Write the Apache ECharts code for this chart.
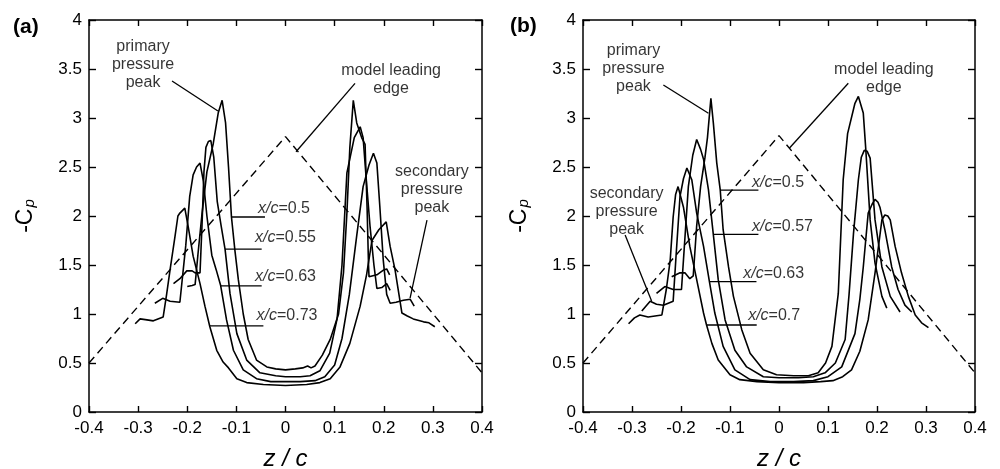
<!DOCTYPE html>
<html>
<head>
<meta charset="utf-8">
<script src="https://cdn.jsdelivr.net/npm/echarts@6/dist/echarts.min.js"></script>
<style>
html, body { margin: 0; padding: 0; background: #fff; }
#chart { width: 1000px; height: 469px; }
</style>
</head>
<body>
<div id="chart"></div>
<script>
// tick values
var xTicks = [-0.4, 0.4, 0.1];   // min, max, step of z/c
var yTicks = [0, 4, 0.5];        // min, max, step of -Cp

// model leading edge (dashed)
var edgeA = [[-0.4, 0.5], [0, 2.81], [0.4, 0.4]];
var edgeB = [[-0.4, 0.5], [0, 2.82], [0.4, 0.4]];

// panel (a) : -Cp along z/c, one line per chord station
var a050 = [[-0.200,1.28],[-0.190,1.29],[-0.184,1.30],[-0.178,1.62],[-0.170,2.02],[-0.160,2.45],[-0.147,2.74],[-0.137,3.05],[-0.129,3.18],[-0.122,2.95],[-0.116,2.50],[-0.110,1.99],[-0.103,1.65],[-0.096,1.35],[-0.086,1.00],[-0.076,0.74],[-0.059,0.53],[-0.038,0.46],[-0.020,0.44],[0.000,0.43],[0.020,0.44],[0.035,0.45],[0.045,0.47],[0.052,0.45],[0.060,0.47],[0.075,0.58],[0.091,0.74],[0.108,1.00],[0.118,1.42],[0.125,2.03],[0.131,2.70],[0.138,3.18],[0.145,2.95],[0.155,2.80],[0.162,2.73],[0.166,2.10],[0.169,1.50],[0.170,1.38],[0.186,1.40],[0.200,1.45],[0.206,1.46],[0.212,1.40]];
var a055 = [[-0.228,1.31],[-0.215,1.36],[-0.201,1.44],[-0.190,1.44],[-0.184,1.42],[-0.174,1.42],[-0.170,1.90],[-0.166,2.45],[-0.162,2.70],[-0.157,2.76],[-0.152,2.77],[-0.146,2.60],[-0.139,2.15],[-0.131,1.90],[-0.123,1.66],[-0.113,1.21],[-0.099,0.80],[-0.079,0.53],[-0.052,0.40],[-0.020,0.37],[0.000,0.36],[0.030,0.36],[0.050,0.37],[0.070,0.42],[0.090,0.60],[0.105,0.95],[0.115,1.50],[0.125,2.44],[0.140,2.80],[0.152,2.91],[0.158,2.80],[0.164,2.40],[0.172,1.90],[0.180,1.50],[0.186,1.26],[0.196,1.27],[0.206,1.31],[0.213,1.24]];
var a063 = [[-0.266,1.11],[-0.250,1.16],[-0.235,1.13],[-0.215,1.12],[-0.211,1.14],[-0.203,1.70],[-0.195,2.20],[-0.188,2.42],[-0.181,2.50],[-0.174,2.54],[-0.167,2.35],[-0.160,2.00],[-0.150,1.60],[-0.141,1.45],[-0.132,1.29],[-0.120,0.94],[-0.106,0.63],[-0.086,0.43],[-0.059,0.34],[-0.030,0.31],[0.000,0.31],[0.030,0.31],[0.060,0.32],[0.080,0.36],[0.100,0.48],[0.115,0.75],[0.130,1.20],[0.145,1.80],[0.158,2.30],[0.170,2.52],[0.179,2.64],[0.186,2.54],[0.192,2.10],[0.199,1.55],[0.206,1.20],[0.213,1.11],[0.225,1.12],[0.240,1.14],[0.254,1.15],[0.262,1.08]];
var a073 = [[-0.306,0.90],[-0.296,0.95],[-0.282,0.94],[-0.269,0.93],[-0.249,0.97],[-0.242,1.20],[-0.235,1.45],[-0.225,1.79],[-0.219,2.00],[-0.215,2.03],[-0.205,2.08],[-0.198,1.89],[-0.188,1.59],[-0.174,1.31],[-0.164,1.08],[-0.154,0.87],[-0.140,0.63],[-0.127,0.51],[-0.116,0.45],[-0.099,0.34],[-0.079,0.30],[-0.045,0.28],[0.000,0.27],[0.043,0.28],[0.070,0.30],[0.091,0.34],[0.111,0.46],[0.131,0.70],[0.152,1.08],[0.165,1.40],[0.176,1.75],[0.190,1.86],[0.205,1.94],[0.213,1.69],[0.223,1.45],[0.237,1.01],[0.248,0.98],[0.260,0.95],[0.281,0.92],[0.292,0.91],[0.304,0.87]];

// panel (b)
var b050 = [[-0.219,1.38],[-0.202,1.42],[-0.192,1.42],[-0.182,1.36],[-0.175,1.39],[-0.168,1.90],[-0.160,2.30],[-0.151,2.60],[-0.146,2.80],[-0.139,3.20],[-0.134,2.95],[-0.127,2.54],[-0.120,2.27],[-0.114,1.86],[-0.103,1.48],[-0.093,1.18],[-0.076,0.84],[-0.059,0.60],[-0.032,0.43],[-0.005,0.38],[0.030,0.37],[0.060,0.37],[0.080,0.40],[0.095,0.50],[0.108,0.67],[0.121,1.21],[0.131,2.37],[0.140,2.84],[0.155,3.15],[0.162,3.22],[0.172,3.05],[0.177,2.69],[0.186,1.96],[0.196,1.52],[0.210,1.18],[0.220,1.06]];
var b057 = [[-0.250,1.21],[-0.233,1.28],[-0.216,1.25],[-0.199,1.25],[-0.193,1.70],[-0.185,2.30],[-0.176,2.62],[-0.168,2.78],[-0.160,2.68],[-0.154,2.58],[-0.144,2.27],[-0.134,1.81],[-0.124,1.35],[-0.110,0.94],[-0.090,0.63],[-0.066,0.46],[-0.032,0.36],[0.000,0.35],[0.040,0.35],[0.070,0.36],[0.094,0.40],[0.115,0.50],[0.135,0.74],[0.143,1.20],[0.152,1.82],[0.162,2.37],[0.168,2.60],[0.174,2.67],[0.180,2.66],[0.186,2.59],[0.196,1.96],[0.210,1.48],[0.227,1.18],[0.247,1.02]];
var b063 = [[-0.280,1.03],[-0.263,1.13],[-0.250,1.10],[-0.236,1.09],[-0.216,1.13],[-0.210,1.60],[-0.202,2.20],[-0.195,2.38],[-0.188,2.49],[-0.178,2.37],[-0.168,2.03],[-0.154,1.69],[-0.142,1.33],[-0.131,1.01],[-0.114,0.67],[-0.090,0.43],[-0.059,0.33],[-0.018,0.31],[0.030,0.31],[0.070,0.32],[0.100,0.36],[0.128,0.46],[0.155,0.80],[0.165,1.15],[0.172,1.48],[0.182,2.03],[0.190,2.12],[0.196,2.17],[0.202,2.14],[0.206,2.09],[0.216,1.86],[0.230,1.48],[0.243,1.25],[0.257,1.09],[0.271,1.02]];
var b070 = [[-0.307,0.90],[-0.295,0.96],[-0.284,0.99],[-0.267,0.97],[-0.239,0.99],[-0.230,1.25],[-0.222,1.55],[-0.216,1.99],[-0.211,2.22],[-0.206,2.30],[-0.195,2.09],[-0.182,1.69],[-0.168,1.35],[-0.154,1.01],[-0.148,0.89],[-0.137,0.70],[-0.124,0.53],[-0.100,0.38],[-0.080,0.33],[-0.045,0.31],[0.000,0.30],[0.050,0.30],[0.085,0.31],[0.110,0.32],[0.130,0.36],[0.148,0.43],[0.165,0.62],[0.182,0.94],[0.196,1.42],[0.210,1.96],[0.216,2.01],[0.222,2.00],[0.227,1.96],[0.237,1.69],[0.250,1.42],[0.264,1.18],[0.278,0.99],[0.291,0.91],[0.305,0.86]];

// annotation texts and their anchor (data units)
var notesA = [
  ['primary\npressure\npeak', -0.290, 3.54, 'c'],
  ['model leading\nedge', 0.215, 3.39, 'c'],
  ['secondary\npressure\npeak', 0.298, 2.265, 'c'],
  ['{i|x/c}=0.5', -0.056, 2.08, 'l'],
  ['{i|x/c}=0.55', -0.062, 1.776, 'l'],
  ['{i|x/c}=0.63', -0.062, 1.38, 'l'],
  ['{i|x/c}=0.73', -0.059, 0.98, 'l']
];
var notesB = [
  ['primary\npressure\npeak', -0.297, 3.507, 'c'],
  ['model leading\nedge', 0.214, 3.40, 'c'],
  ['secondary\npressure\npeak', -0.311, 2.044, 'c'],
  ['{i|x/c}=0.5', -0.055, 2.34, 'l'],
  ['{i|x/c}=0.57', -0.055, 1.89, 'l'],
  ['{i|x/c}=0.63', -0.073, 1.408, 'l'],
  ['{i|x/c}=0.7', -0.063, 0.98, 'l']
];
// leader lines
var leadersA = [
  [[-0.231, 3.378], [-0.1375, 3.071]],
  [[0.1415, 3.354], [0.0214, 2.656]],
  [[0.288, 1.959], [0.2536, 1.163]],
  [[-0.1096, 1.99], [-0.0418, 1.99]],
  [[-0.123, 1.663], [-0.0485, 1.663]],
  [[-0.132, 1.286], [-0.0485, 1.286]],
  [[-0.154, 0.878], [-0.045, 0.878]]
];
var leadersB = [
  [[-0.236, 3.337], [-0.144, 3.048]],
  [[0.1414, 3.354], [0.021, 2.691]],
  [[-0.314, 1.806], [-0.260, 1.133]],
  [[-0.120, 2.265], [-0.042, 2.265]],
  [[-0.134, 1.813], [-0.042, 1.813]],
  [[-0.142, 1.33], [-0.046, 1.33]],
  [[-0.148, 0.888], [-0.0455, 0.888]]
];

var font = 'Liberation Sans, Arial, Helvetica, sans-serif';
var black = '#000';

function xAxisFor(g, pos) {
  var bottom = pos === 'bottom';
  return {
    type: 'value', gridIndex: g, position: pos,
    min: xTicks[0], max: xTicks[1], interval: xTicks[2],
    axisLine: { onZero: false, lineStyle: { color: black, width: 1.5 } },
    axisTick: { inside: true, length: 6, lineStyle: { color: black, width: 1.4 } },
    axisLabel: { show: bottom, color: black, fontSize: 17, fontFamily: font, margin: 8 },
    splitLine: { show: false },
    name: bottom ? 'z / c' : '',
    nameLocation: 'middle', nameGap: 35,
    nameTextStyle: { fontSize: 24, fontStyle: 'italic', fontFamily: font, color: black }
  };
}
function yAxisFor(g, pos) {
  var left = pos === 'left';
  return {
    type: 'value', gridIndex: g, position: pos,
    min: yTicks[0], max: yTicks[1], interval: yTicks[2],
    axisLine: { onZero: false, lineStyle: { color: black, width: 1.5 } },
    axisTick: { inside: true, length: 7, lineStyle: { color: black, width: 1.4 } },
    axisLabel: { show: left, color: black, fontSize: 17, fontFamily: font, margin: 7 },
    splitLine: { show: false },
    name: left ? '{a|-C}{b|p}' : '',
    nameLocation: 'middle', nameGap: 52,
    nameTextStyle: {
      color: black, fontFamily: font,
      rich: {
        a: { fontSize: 23, fontFamily: font, color: black, verticalAlign: 'top', lineHeight: 23 },
        b: { fontSize: 15, fontFamily: font, color: black, fontStyle: 'italic', verticalAlign: 'bottom', lineHeight: 15, padding: [10, 0, 0, 1] }
      }
    }
  };
}

function curve(data, g) {
  return {
    type: 'line', data: data, xAxisIndex: g * 2, yAxisIndex: g * 2,
    symbol: 'none', silent: true,
    lineStyle: { color: black, width: 1.6 }
  };
}
function edge(data, g) {
  return {
    type: 'line', data: data, xAxisIndex: g * 2, yAxisIndex: g * 2,
    symbol: 'none', silent: true,
    lineStyle: { color: black, width: 1.4, type: [8, 5] }
  };
}
function leader(data, g) {
  return {
    type: 'line', data: data, xAxisIndex: g * 2, yAxisIndex: g * 2,
    symbol: 'none', silent: true,
    lineStyle: { color: black, width: 1.3 }
  };
}
function notes(list, g) {
  return {
    type: 'scatter', xAxisIndex: g * 2, yAxisIndex: g * 2,
    symbolSize: 0, silent: true,
    data: list.map(function (n) {
      return {
        name: n[0], value: [n[1], n[2]],
        label: n[3] === 'c'
          ? { position: 'inside', align: 'center', verticalAlign: 'middle' }
          : { position: 'right', distance: 0 }
      };
    }),
    label: {
      show: true, formatter: function (p) { return p.name; },
      color: black, fontSize: 16, lineHeight: 18, fontFamily: font,
      rich: { i: { fontStyle: 'italic', fontSize: 16, fontFamily: font, color: black } }
    }
  };
}

var series = [];
[a050, a055, a063, a073].forEach(function (d) { series.push(curve(d, 0)); });
[b050, b057, b063, b070].forEach(function (d) { series.push(curve(d, 1)); });
series.push(edge(edgeA, 0), edge(edgeB, 1));
leadersA.forEach(function (d) { series.push(leader(d, 0)); });
leadersB.forEach(function (d) { series.push(leader(d, 1)); });
series.push(notes(notesA, 0), notes(notesB, 1));

var myChart = echarts.init(document.getElementById('chart'));
myChart.setOption({
  animation: false,
  backgroundColor: '#fff',
  title: [
    { text: '(a)', left: 13, top: 17, padding: 0, textStyle: { fontSize: 21, fontWeight: 'bold', fontFamily: font, color: black } },
    { text: '(b)', left: 510, top: 16, padding: 0, textStyle: { fontSize: 21, fontWeight: 'bold', fontFamily: font, color: black } }
  ],
  grid: [
    { left: 89, top: 20, width: 393, height: 392, outerBoundsMode: 'none' },
    { left: 583, top: 20, width: 392, height: 392, outerBoundsMode: 'none' }
  ],
  xAxis: [xAxisFor(0, 'bottom'), xAxisFor(0, 'top'), xAxisFor(1, 'bottom'), xAxisFor(1, 'top')],
  yAxis: [yAxisFor(0, 'left'), yAxisFor(0, 'right'), yAxisFor(1, 'left'), yAxisFor(1, 'right')],
  series: series
});
</script>
</body>
</html>
